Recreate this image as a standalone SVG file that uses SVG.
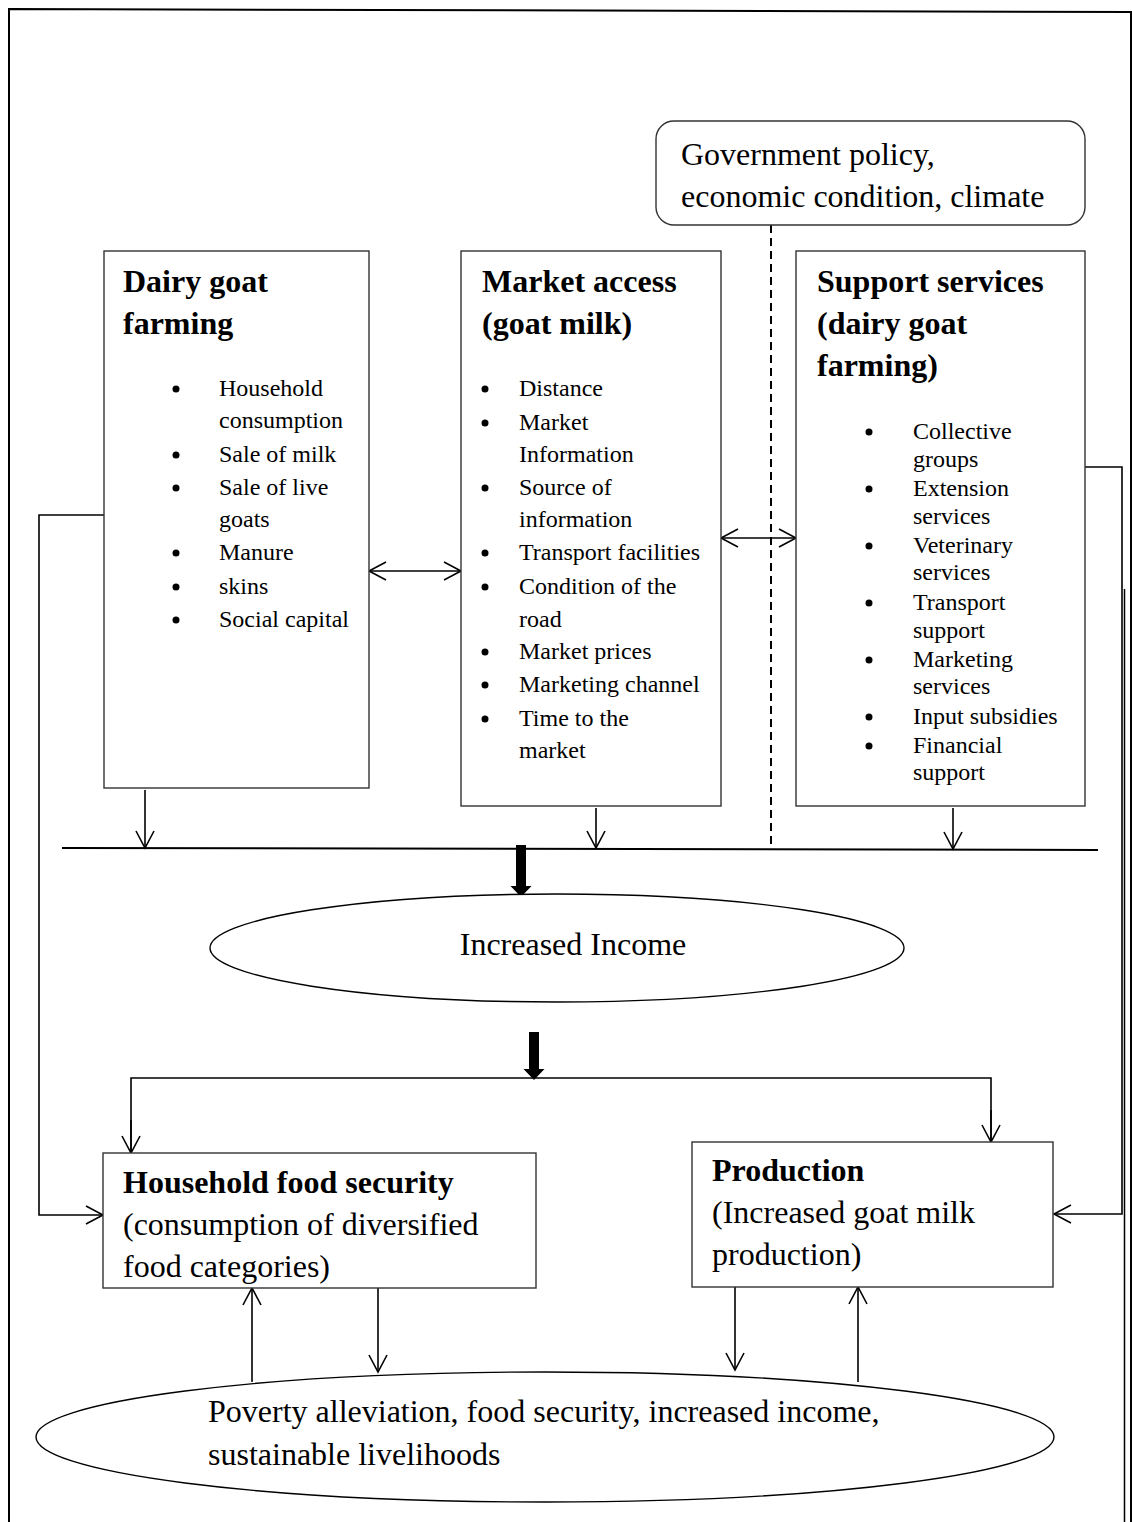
<svg xmlns="http://www.w3.org/2000/svg" width="1132" height="1522" viewBox="0 0 1132 1522">
<style>
text{font-family:"Liberation Serif","Times New Roman",serif;fill:#000}
.t{font-size:32px}
.b{font-size:32px;font-weight:bold}
.s{font-size:24px}
.box{fill:#fff;stroke:#333;stroke-width:1.4}
.ln{fill:none;stroke:#000;stroke-width:1.6}
.ar{fill:none;stroke:#000;stroke-width:1.6;marker-end:url(#ah)}
</style>
<defs>
<marker id="ah" markerUnits="userSpaceOnUse" markerWidth="22" markerHeight="24" refX="18" refY="10" orient="auto">
<path d="M1,1 L18,10 L1,19" fill="none" stroke="#000" stroke-width="1.6"/>
</marker>
<marker id="ahs" markerUnits="userSpaceOnUse" markerWidth="22" markerHeight="24" refX="18" refY="10" orient="auto-start-reverse">
<path d="M1,1 L18,10 L1,19" fill="none" stroke="#000" stroke-width="1.6"/>
</marker>
<clipPath id="fsclip"><rect x="103" y="1153" width="433" height="135"/></clipPath>
</defs>

<g id="frame">
<path d="M9,1522 L9,9 L1131,12 L1131,1522" fill="none" stroke="#000" stroke-width="2"/>
<line x1="1124.5" y1="589" x2="1124.5" y2="1522" stroke="#000" stroke-width="1.5"/>
</g>

<g id="connectors">
<line x1="771" y1="225" x2="771" y2="848" stroke="#000" stroke-width="2" stroke-dasharray="8,5"/>
<line x1="369" y1="571" x2="461" y2="571" class="ln" marker-start="url(#ahs)" marker-end="url(#ahs)"/>
<line x1="721" y1="538" x2="796" y2="538" class="ln" marker-start="url(#ahs)" marker-end="url(#ahs)"/>
<line x1="62" y1="848" x2="1098" y2="850" stroke="#000" stroke-width="2"/>
<line x1="145" y1="790" x2="145" y2="848" class="ar"/>
<line x1="596" y1="808" x2="596" y2="848" class="ar"/>
<line x1="953" y1="808" x2="953" y2="849" class="ar"/>
<path d="M516,845 L526,845 L526,886 L531.5,886 L521,897 L510.5,886 L516,886 Z" fill="#000"/>
<path d="M529,1032 L539,1032 L539,1069 L544.5,1069 L534,1080 L523.5,1069 L529,1069 Z" fill="#000"/>
<polyline points="131,1153 131,1078 991,1078 991,1142" class="ln"/>
<line x1="131" y1="1120" x2="131" y2="1153" class="ar"/>
<line x1="991" y1="1110" x2="991" y2="1142" class="ar"/>
<polyline points="104,515 39,515 39,1215 103,1215" class="ar"/>
<polyline points="1085,467 1122,467 1122,1214 1054,1214" class="ar" stroke-width="2"/>
<line x1="252" y1="1382" x2="252" y2="1288" class="ar"/>
<line x1="378" y1="1288" x2="378" y2="1372" class="ar"/>
<line x1="735" y1="1287" x2="735" y2="1370" class="ar"/>
<line x1="858" y1="1382" x2="858" y2="1287" class="ar"/>
</g>

<g id="gov">
<rect x="656" y="121" width="429" height="104" rx="18" class="box"/>
<text class="t" x="681" y="165">Government policy,</text>
<text class="t" x="681" y="207">economic condition, climate</text>
</g>

<g id="dairy">
<rect x="104" y="251" width="265" height="537" class="box"/>
<text class="b" x="123" y="292">Dairy goat</text>
<text class="b" x="123" y="334">farming</text>
<g fill="#000">
<circle cx="176" cy="389" r="3.5"/><circle cx="176" cy="455" r="3.5"/><circle cx="176" cy="488" r="3.5"/>
<circle cx="176" cy="553" r="3.5"/><circle cx="176" cy="587" r="3.5"/><circle cx="176" cy="620" r="3.5"/>
</g>
<text class="s" x="219" y="396">Household</text>
<text class="s" x="219" y="428">consumption</text>
<text class="s" x="219" y="462">Sale of milk</text>
<text class="s" x="219" y="495">Sale of live</text>
<text class="s" x="219" y="527">goats</text>
<text class="s" x="219" y="560">Manure</text>
<text class="s" x="219" y="594">skins</text>
<text class="s" x="219" y="627">Social capital</text>
</g>

<g id="market">
<rect x="461" y="251" width="260" height="555" class="box"/>
<text class="b" x="482" y="292">Market access</text>
<text class="b" x="482" y="334">(goat milk)</text>
<g fill="#000">
<circle cx="485" cy="389" r="3.5"/><circle cx="485" cy="423" r="3.5"/><circle cx="485" cy="488" r="3.5"/>
<circle cx="485" cy="553" r="3.5"/><circle cx="485" cy="587" r="3.5"/><circle cx="485" cy="652" r="3.5"/>
<circle cx="485" cy="685" r="3.5"/><circle cx="485" cy="719" r="3.5"/>
</g>
<text class="s" x="519" y="396">Distance</text>
<text class="s" x="519" y="430">Market</text>
<text class="s" x="519" y="462">Information</text>
<text class="s" x="519" y="495">Source of</text>
<text class="s" x="519" y="527">information</text>
<text class="s" x="519" y="560">Transport facilities</text>
<text class="s" x="519" y="594">Condition of the</text>
<text class="s" x="519" y="627">road</text>
<text class="s" x="519" y="659">Market prices</text>
<text class="s" x="519" y="692">Marketing channel</text>
<text class="s" x="519" y="726">Time to the</text>
<text class="s" x="519" y="758">market</text>
</g>

<g id="support">
<rect x="796" y="251" width="289" height="555" class="box"/>
<text class="b" x="817" y="292">Support services</text>
<text class="b" x="817" y="334">(dairy goat</text>
<text class="b" x="817" y="376">farming)</text>
<g fill="#000">
<circle cx="869" cy="432" r="3.5"/><circle cx="869" cy="489" r="3.5"/><circle cx="869" cy="546" r="3.5"/>
<circle cx="869" cy="603" r="3.5"/><circle cx="869" cy="660" r="3.5"/><circle cx="869" cy="717" r="3.5"/>
<circle cx="869" cy="746" r="3.5"/>
</g>
<text class="s" x="913" y="439">Collective</text>
<text class="s" x="913" y="467">groups</text>
<text class="s" x="913" y="496">Extension</text>
<text class="s" x="913" y="524">services</text>
<text class="s" x="913" y="553">Veterinary</text>
<text class="s" x="913" y="580">services</text>
<text class="s" x="913" y="610">Transport</text>
<text class="s" x="913" y="638">support</text>
<text class="s" x="913" y="667">Marketing</text>
<text class="s" x="913" y="694">services</text>
<text class="s" x="913" y="724">Input subsidies</text>
<text class="s" x="913" y="753">Financial</text>
<text class="s" x="913" y="780">support</text>
</g>

<g id="income">
<ellipse cx="557" cy="948" rx="347" ry="54" fill="#fff" stroke="#000" stroke-width="1.4"/>
<text class="t" x="573" y="955" text-anchor="middle">Increased Income</text>
</g>

<g id="foodsec">
<rect x="103" y="1153" width="433" height="135" class="box"/>
<g clip-path="url(#fsclip)">
<text class="b" x="123" y="1193">Household food security</text>
<text class="t" x="123" y="1235">(consumption of diversified</text>
<text class="t" x="123" y="1277">food categories)</text>
</g>
</g>

<g id="production">
<rect x="692" y="1142" width="361" height="145" class="box"/>
<text class="b" x="712" y="1181">Production</text>
<text class="t" x="712" y="1223">(Increased goat milk</text>
<text class="t" x="712" y="1265">production)</text>
</g>

<g id="outcome">
<ellipse cx="545" cy="1437" rx="509" ry="65" fill="#fff" stroke="#000" stroke-width="1.4"/>
<text class="t" x="208" y="1422">Poverty alleviation, food security, increased income,</text>
<text class="t" x="208" y="1465">sustainable livelihoods</text>
</g>
</svg>
